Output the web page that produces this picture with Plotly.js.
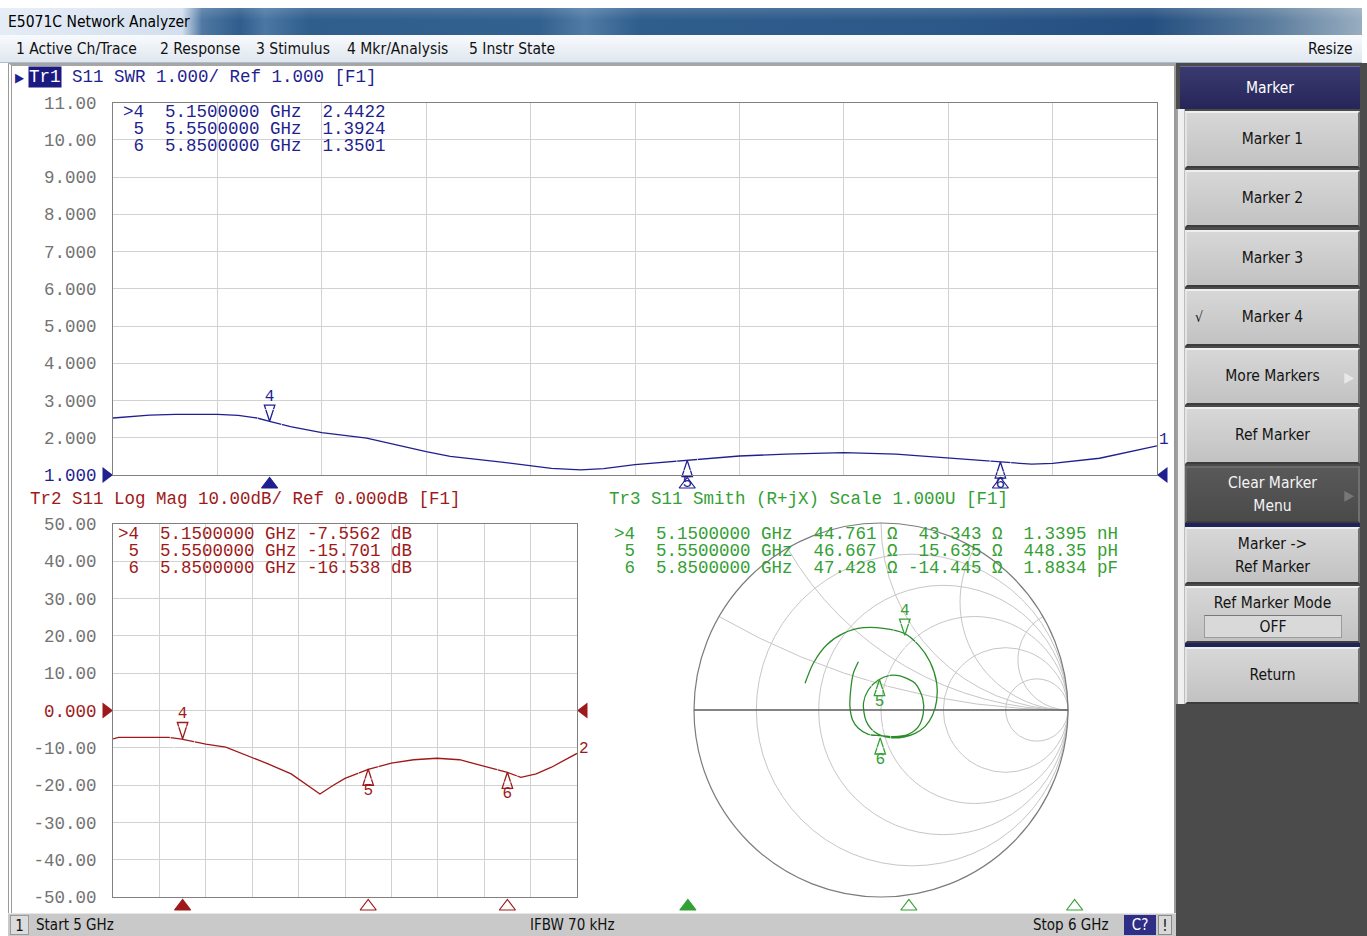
<!DOCTYPE html>
<html>
<head>
<meta charset="utf-8">
<title>E5071C Network Analyzer</title>
<script src="https://cdn.plot.ly/plotly-3.0.1.min.js"></script>
<style>
  html,body{margin:0;padding:0;}
  body{width:1367px;height:936px;position:relative;overflow:hidden;background:#ffffff;
       font-family:'DejaVu Sans Condensed','DejaVu Sans',sans-serif;font-stretch:condensed;}
  .a{position:absolute;box-sizing:border-box;white-space:nowrap;}
  #titlebar{left:0;top:8px;width:1362px;height:27px;
    background:linear-gradient(90deg,#e4ecf6 0px,#d3dfee 182px,#4f78a3 202px,#2f5d8c 240px,#4a77a3 265px,#2f5d8c 310px,#33618f 540px,#4f7ba6 585px,#2f5d8c 640px,#2b5888 950px,#244f80 1150px,#5a7c9d 1270px,#98adc0 1362px);}
  #titlebar:after{content:"";position:absolute;left:0;top:0;right:0;height:12px;background:linear-gradient(rgba(255,255,255,0.15),rgba(255,255,255,0));}
  #titletext{left:8px;top:8px;height:27px;line-height:28px;font-size:15.5px;color:#000;}
  #menubar{left:0;top:35px;width:1362px;height:28px;background:linear-gradient(#f8fafd,#e0e7f0);border-bottom:1px solid #aebbcb;}
  .menu{top:35px;height:28px;line-height:29px;font-size:15.5px;color:#111;}
  #frame{left:8px;top:63px;width:1168px;height:851px;border-left:4px double #9a9a9a;border-top:3px solid #a6a6a6;border-right:2px solid #9a9a9a;background:#fff;}
  #status{left:8px;top:913px;width:1168px;height:23px;background:#c9c9c9;border-top:1px solid #e6e6e6;}
  .st{top:913px;height:23px;line-height:24px;font-size:15px;color:#111;}
  #panel{left:1176px;top:63px;width:191px;height:873px;background:#4b4b4b;}
  #strip{left:1176px;top:109px;width:9px;height:595px;background:#f0f0f0;border-left:2px solid #a0a0a0;border-right:1px solid #bdbdbd;}
  .key{left:1185px;width:175px;background:linear-gradient(#d7d7d7,#c2c2c2);border-top:2px solid #efefef;border-left:2px solid #e4e4e4;border-right:2px solid #707070;border-bottom:2px solid #3c3c3c;
       color:#141414;font-size:15.5px;display:flex;align-items:center;justify-content:center;text-align:center;line-height:23px;white-space:normal;}
  .dark{background:linear-gradient(#595959,#4a4a4a);color:#f4f4f4;border-top:2px solid #6a6a6a;border-left:2px solid #666;}
  .hdr{left:1180px;top:66px;width:180px;height:43px;background:linear-gradient(#3a3a70,#25255a);color:#fff;font-size:15.5px;display:flex;align-items:center;justify-content:center;border-top:1px solid #6b6b9a;}
  .sep{left:1185px;width:175px;height:4px;background:#22225a;}
  #plot{position:absolute;left:0;top:0;width:1367px;height:936px;}
</style>
</head>
<body>
<div class="a" id="titlebar"></div>
<div class="a" id="titletext">E5071C Network Analyzer</div>
<div class="a" id="menubar"></div>
<div class="a menu" style="left:16px">1 Active Ch/Trace</div>
<div class="a menu" style="left:160px">2 Response</div>
<div class="a menu" style="left:256px">3 Stimulus</div>
<div class="a menu" style="left:347px">4 Mkr/Analysis</div>
<div class="a menu" style="left:469px">5 Instr State</div>
<div class="a menu" style="left:1308px">Resize</div>

<div class="a" id="frame"></div>
<div class="a" id="status"></div>
<div class="a st" style="left:10px;width:19px;top:915px;height:20px;line-height:20px;text-align:center;background:#dcdcdc;border:1px solid #9a9a9a;">1</div>
<div class="a st" id="stStart" style="left:36px"></div>
<div class="a st" id="stIfbw" style="left:530px"></div>
<div class="a st" id="stStop" style="left:1033px"></div>
<div class="a st" style="left:1124px;width:32px;top:915px;height:20px;line-height:20px;text-align:center;background:#2e2e86;color:#fff;">C?</div>
<div class="a st" style="left:1158px;width:14px;top:915px;height:20px;line-height:20px;text-align:center;background:#d8d8d8;border:1px solid #8a8a8a;">!</div>

<div class="a" id="panel"></div>
<div class="a" id="strip"></div>
<div class="a hdr">Marker</div>
<div class="a key" style="top:111px;height:57px;">Marker 1</div>
<div class="a key" style="top:170px;height:57px;">Marker 2</div>
<div class="a key" style="top:230px;height:57px;">Marker 3</div>
<div class="a key" style="top:289px;height:57px;"><span style="position:absolute;left:8px;top:15px;font-size:14px;">&#8730;</span>Marker 4</div>
<div class="a key" style="top:348px;height:57px;">More Markers<span style="position:absolute;right:4px;top:16px;color:#e8e8e8;font-size:14px;">&#9654;</span></div>
<div class="a key" style="top:407px;height:57px;">Ref Marker</div>
<div class="a key dark" style="top:466px;height:57px;">Clear Marker<br>Menu<span style="position:absolute;right:4px;top:16px;color:#777;font-size:14px;">&#9654;</span></div>
<div class="a sep" style="top:523px;"></div>
<div class="a key" style="top:527px;height:57px;">Marker -&gt;<br>Ref Marker</div>
<div class="a key" style="top:586px;height:57px;align-items:flex-start;padding-top:4px;">Ref Marker Mode</div>
<div class="a" style="left:1204px;top:615px;width:138px;height:23px;background:#d9d9d9;border:1px solid #9c9c9c;border-top-color:#777;font-size:15.5px;line-height:22px;text-align:center;color:#141414;">OFF</div>
<div class="a sep" style="top:643px;"></div>
<div class="a key" style="top:647px;height:57px;">Return</div>

<div id="plot"></div>

<script>
// ---------------- data ----------------
const startGHz = 5.0;
const stopGHz = 6.0;
const ifbwKHz = 70;
const Z0 = 50;

// Tr1  S11 SWR
const swrFreq = [5.000, 5.020, 5.035, 5.060, 5.100, 5.120, 5.138, 5.150, 5.170, 5.200, 5.243, 5.300, 5.323, 5.368, 5.400, 5.420, 5.448, 5.470, 5.500, 5.550, 5.600, 5.644, 5.700, 5.750, 5.800, 5.850, 5.880, 5.900, 5.945, 6.000];
const swrVal  = [2.53, 2.58, 2.61, 2.63, 2.63, 2.60, 2.53, 2.44, 2.30, 2.14, 1.99, 1.63, 1.50, 1.36, 1.25, 1.18, 1.14, 1.17, 1.28, 1.39, 1.51, 1.56, 1.60, 1.56, 1.45, 1.35, 1.29, 1.31, 1.45, 1.78];
const swrTickVals = [1, 2, 3, 4, 5, 6, 7, 8, 9, 10, 11];
const swrTickText = ['1.000', '2.000', '3.000', '4.000', '5.000', '6.000', '7.000', '8.000', '9.000', '10.00', '11.00'];
const swrRef = 1.0;

// Tr2  S11 Log Mag
const dbFreq = [5.000, 5.012, 5.050, 5.120, 5.148, 5.200, 5.243, 5.300, 5.334, 5.384, 5.417, 5.446, 5.474, 5.500, 5.550, 5.600, 5.648, 5.698, 5.747, 5.798, 5.850, 5.879, 5.912, 5.945, 6.000];
const dbVal  = [-7.6, -7.2, -7.2, -7.2, -7.7, -9.0, -9.8, -12.5, -14.3, -17.0, -19.9, -22.4, -20.1, -18.2, -15.8, -14.1, -13.2, -12.8, -13.2, -14.8, -16.6, -17.9, -17.0, -15.2, -11.5];
const dbTickVals = [-50, -40, -30, -20, -10, 0, 10, 20, 30, 40, 50];
const dbTickText = ['-50.00', '-40.00', '-30.00', '-20.00', '-10.00', '0.000', '10.00', '20.00', '30.00', '40.00', '50.00'];
const dbRef = 0;

const smithGammaRe = [-0.406, -0.362, -0.291, -0.201, -0.094, 0.012, 0.125, 0.200, 0.262, 0.298, 0.298, 0.276, 0.235, 0.182, 0.128, 0.048, -0.032, -0.080, -0.094, -0.068, -0.014, 0.048, 0.102, 0.182, 0.223, 0.226, 0.200, 0.146, 0.066, -0.005, -0.068, -0.121, -0.152, -0.166, -0.162, -0.148, -0.121];
const smithGammaIm = [0.143, 0.250, 0.348, 0.410, 0.440, 0.437, 0.410, 0.348, 0.258, 0.143, 0.053, -0.027, -0.089, -0.125, -0.143, -0.148, -0.119, -0.057, 0.036, 0.107, 0.160, 0.185, 0.182, 0.143, 0.062, -0.018, -0.089, -0.130, -0.143, -0.137, -0.130, -0.098, -0.053, 0.018, 0.107, 0.196, 0.258];
// grid: resistance circles and reactance arcs
const smithRealGrid = [0.2, 0.5, 1, 2, 5];
const smithImagGrid = [0.268, 0.577, 1, 1.732, 3.732];

// markers
const markerNum  = [4, 5, 6];
const activeMarker = 4;
const markerFreq = [5.15, 5.55, 5.85];
const markerSwr  = [2.4422, 1.3924, 1.3501];
const markerDb   = [-7.5562, -15.701, -16.538];
const markerR    = [44.761, 46.667, 47.428];
const markerX    = [43.343, 15.635, -14.445];
const markerLC   = [1.3395, 448.35, 1.8834];
const markerLCUnit = ['nH', 'pH', 'pF'];

// ---------------- chrome texts ----------------
document.getElementById('stStart').textContent = 'Start ' + startGHz + ' GHz';
document.getElementById('stStop').textContent = 'Stop ' + stopGHz + ' GHz';
document.getElementById('stIfbw').textContent = 'IFBW ' + ifbwKHz + ' kHz';

// ---------------- styling & geometry ----------------
const W = 1367, H = 936;
const fx = p => p / W;
const fy = p => 1 - p / H;
const mono = 'Liberation Mono, DejaVu Sans Mono, monospace';
const FS = 17.5;
const navy = '#1f1f90', red = '#9e1a1a', green = '#33a033', greenTrace = '#2a8c2a';
const gridC = '#d2d2d2', frameC = '#808080', tickC = '#737373';
const NB = '\u00a0';
const sp = n => NB.repeat(n);
const padL = (s, n) => NB.repeat(Math.max(0, n - s.length)) + s;

const isActive = markerNum.map(n => n === activeMarker);
const mkAngle = isActive.map(a => a ? 180 : 0);
const mkTextPos = isActive.map(a => a ? 'top center' : 'bottom center');
const mkTextPad = isActive.map(a => a ? 25 : 21);
const mkLabel = markerNum.map((n, i) => (isActive[i] ? '>' : NB) + n);

// Smith: convert reflection coefficient to normalized impedance for scattersmith
const smithReal = smithGammaRe.map((a, i) => { const b = smithGammaIm[i]; const d = (1 - a) * (1 - a) + b * b; return (1 - a * a - b * b) / d; });
const smithImag = smithGammaRe.map((a, i) => { const b = smithGammaIm[i]; const d = (1 - a) * (1 - a) + b * b; return 2 * b / d; });

function cartMarkers(xa, ya, xs, ys, color) {
  return [
    {type: 'scatter', xaxis: xa, yaxis: ya, x: xs, y: ys, mode: 'markers', cliponaxis: false, hoverinfo: 'skip',
     marker: {symbol: 'arrow-open', angle: mkAngle, size: 17, color: color, line: {color: color, width: 1.3}}},
    {type: 'scatter', xaxis: xa, yaxis: ya, x: xs, y: ys, mode: 'markers+text', cliponaxis: false, hoverinfo: 'skip',
     text: markerNum.map(String), textposition: mkTextPos, textfont: {family: mono, size: 16, color: color},
     marker: {size: mkTextPad, color: 'rgba(0,0,0,0)'}}
  ];
}
// triangles below the frequency axis (filled = active marker)
function indicators(xa, ya, yval, color) {
  return {type: 'scatter', xaxis: xa, yaxis: ya, x: markerFreq, y: markerFreq.map(() => yval), mode: 'markers', cliponaxis: false, hoverinfo: 'skip',
    marker: {symbol: isActive.map(a => a ? 'triangle-up' : 'triangle-up-open'), angle: 0, standoff: 9.5, size: 14, color: color, line: {color: color, width: 1.2}}};
}
// reference-level triangles at both sides of the grid
function refTriangles(xa, ya, yval, color) {
  return {type: 'scatter', xaxis: xa, yaxis: ya, x: [startGHz, stopGHz], y: [yval, yval], mode: 'markers', cliponaxis: false, hoverinfo: 'skip',
    marker: {symbol: 'triangle-up', angle: [90, 270], standoff: 7, size: 14, color: color, line: {width: 0}}};
}

const data = [
  {type: 'scatter', x: swrFreq, y: swrVal, xaxis: 'x', yaxis: 'y', mode: 'lines', line: {color: navy, width: 1.3}, hoverinfo: 'skip'},
  {type: 'scatter', x: dbFreq, y: dbVal, xaxis: 'x2', yaxis: 'y2', mode: 'lines', line: {color: red, width: 1.3}, hoverinfo: 'skip'},
  {type: 'scattersmith', subplot: 'smith', real: smithReal, imag: smithImag, mode: 'lines', line: {color: greenTrace, width: 1.3, shape: 'spline', smoothing: 0.8}, hoverinfo: 'skip'},
  ...cartMarkers('x', 'y', markerFreq, markerSwr, navy),
  ...cartMarkers('x2', 'y2', markerFreq, markerDb, red),
  {type: 'scattersmith', subplot: 'smith', real: markerR.map(r => r / Z0), imag: markerX.map(x => x / Z0), mode: 'markers', cliponaxis: false, hoverinfo: 'skip',
   marker: {symbol: 'arrow-open', angle: mkAngle, size: 17, color: green, line: {color: green, width: 1.3}}},
  {type: 'scattersmith', subplot: 'smith', real: markerR.map(r => r / Z0), imag: markerX.map(x => x / Z0), mode: 'markers+text', cliponaxis: false, hoverinfo: 'skip',
   text: markerNum.map(String), textposition: mkTextPos, textfont: {family: mono, size: 16, color: green}, marker: {size: mkTextPad, color: 'rgba(0,0,0,0)'}},
  indicators('x', 'y', swrTickVals[0], navy),
  indicators('x2', 'y2', dbTickVals[0], red),
  indicators('x3', 'y3', 0, green),
  refTriangles('x', 'y', swrRef, navy),
  refTriangles('x2', 'y2', dbRef, red)
];

function axisY(domain, range, vals, texts, refVal, refColor) {
  return {domain: domain, range: range, tickmode: 'array', tickvals: vals,
    ticktext: texts.map((t, i) => vals[i] === refVal ? '<span style="color:' + refColor + '">' + t + '</span>' : t),
    ticks: 'outside', ticklen: 12, tickcolor: 'rgba(0,0,0,0)', tickfont: {family: mono, size: FS, color: tickC},
    showgrid: true, gridcolor: gridC, gridwidth: 1, zeroline: false, showline: true, mirror: true, linecolor: frameC, linewidth: 1, fixedrange: true};
}
function axisX(domain) {
  return {domain: domain, range: [startGHz, stopGHz], tick0: startGHz, dtick: (stopGHz - startGHz) / 10, showticklabels: false, ticks: '',
    showgrid: true, gridcolor: gridC, gridwidth: 1, zeroline: false, showline: true, mirror: true, linecolor: frameC, linewidth: 1, fixedrange: true};
}

function txt(x, y, text, color, extra) {
  return Object.assign({xref: 'paper', yref: 'paper', x: fx(x), y: fy(y), xanchor: 'left', yanchor: 'middle', showarrow: false,
    text: text, font: {family: mono, size: FS, color: color}}, extra || {});
}

const ann = [];
// trace headers
ann.push(txt(13, 77, '\u25B6', navy, {font: {family: 'DejaVu Sans', size: 13, color: navy}}));
ann.push(txt(28, 77, 'Tr1', '#ffffff', {bgcolor: '#1a1a80', borderpad: 0}));
ann.push(txt(70, 77, 'S11 SWR 1.000/ Ref 1.000 [F1]', navy));
ann.push(txt(28, 499, 'Tr2 S11 Log Mag 10.00dB/ Ref 0.000dB [F1]', red));
ann.push(txt(607, 499, 'Tr3 S11 Smith (R+jX) Scale 1.000U [F1]', green));

// marker readouts
markerNum.forEach((n, i) => {
  const f = markerFreq[i].toFixed(7);
  ann.push(txt(121, 112 + 17 * i, mkLabel[i] + sp(2) + f + sp(1) + 'GHz' + sp(2) + markerSwr[i].toFixed(4), navy));
  ann.push(txt(116, 534 + 17 * i, mkLabel[i] + sp(2) + f + sp(1) + 'GHz' + sp(1) + padL(markerDb[i].toPrecision(5), 7) + sp(1) + 'dB', red));
  ann.push(txt(612, 534 + 17 * i, mkLabel[i] + sp(2) + f + sp(1) + 'GHz' + sp(2) + markerR[i].toPrecision(5) + sp(1) + '\u03A9' + sp(1) +
    padL(markerX[i].toPrecision(5), 7) + sp(1) + '\u03A9' + sp(2) + markerLC[i].toPrecision(5) + sp(1) + markerLCUnit[i], green));
});

// trace end labels
ann.push({xref: 'x', yref: 'y', x: swrFreq[swrFreq.length - 1], y: swrVal[swrVal.length - 1], xanchor: 'left', yanchor: 'middle', xshift: 0, yshift: 6,
  showarrow: false, text: '1', font: {family: mono, size: 16, color: navy}});
ann.push({xref: 'x2', yref: 'y2', x: dbFreq[dbFreq.length - 1], y: dbVal[dbVal.length - 1], xanchor: 'left', yanchor: 'middle', xshift: 0, yshift: 4,
  showarrow: false, text: '2', font: {family: mono, size: 16, color: red}});

const layout = {
  width: W, height: H,
  margin: {l: 0, r: 0, t: 0, b: 0, pad: 0},
  paper_bgcolor: 'rgba(0,0,0,0)',
  plot_bgcolor: '#ffffff',
  showlegend: false,
  font: {family: mono, size: FS, color: tickC},
  xaxis: Object.assign(axisX([fx(113), fx(1157)]), {anchor: 'y'}),
  yaxis: Object.assign(axisY([fy(475), fy(102.5)], [swrTickVals[0], swrTickVals[swrTickVals.length - 1]], swrTickVals, swrTickText, swrRef, navy), {anchor: 'x'}),
  xaxis2: Object.assign(axisX([fx(113), fx(577)]), {anchor: 'y2'}),
  yaxis2: Object.assign(axisY([fy(897), fy(524)], [dbTickVals[0], dbTickVals[dbTickVals.length - 1]], dbTickVals, dbTickText, dbRef, red), {anchor: 'x2'}),
  xaxis3: {domain: [fx(605), fx(1157.5)], range: [startGHz, stopGHz], visible: false, anchor: 'y3', fixedrange: true},
  yaxis3: {domain: [fy(897), fy(524)], range: [0, 1], visible: false, anchor: 'x3', fixedrange: true},
  smith: {
    domain: {x: [fx(694), fx(1068)], y: [fy(897), fy(523)]},
    bgcolor: 'rgba(0,0,0,0)',
    realaxis: {tickvals: smithRealGrid, showticklabels: false, ticks: '', showgrid: true, gridcolor: '#c6c6c6', gridwidth: 1,
               showline: true, linecolor: '#5c5c5c', linewidth: 1.5},
    imaginaryaxis: {tickvals: smithImagGrid, showticklabels: false, ticks: '', showgrid: true, gridcolor: '#c6c6c6', gridwidth: 1,
               showline: true, linecolor: '#7c7c7c', linewidth: 1.2}
  },
  annotations: ann
};

Plotly.newPlot('plot', data, layout, {displayModeBar: false, staticPlot: true});
</script>
</body>
</html>
